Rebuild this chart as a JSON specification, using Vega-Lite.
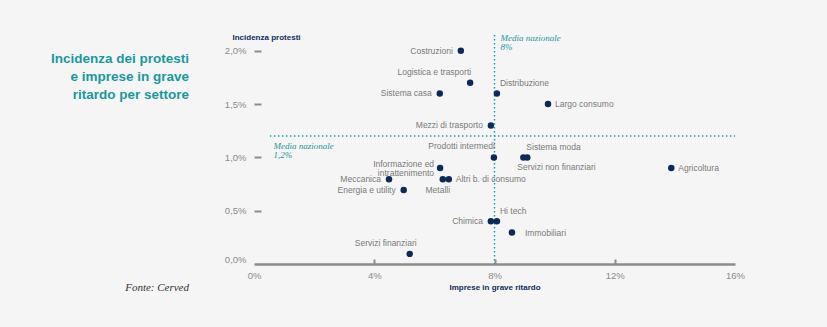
{
  "$schema": "https://vega.github.io/schema/vega-lite/v6.json",
  "width": 481,
  "height": 229,
  "autosize": {"type": "none"},
  "padding": {"left": 254, "top": 35, "right": 92, "bottom": 63},
  "background": "#f5f5f5",
  "config": {
    "view": {"stroke": null},
    "font": "Liberation Sans"
  },
  "title": {
    "text": ["Incidenza dei protesti", "e imprese in grave", "ritardo per settore"],
    "subtitle": "Fonte: Cerved",
    "anchor": "start",
    "frame": "group",
    "orient": "top",
    "align": "right",
    "offset": 0,
    "dx": -65,
    "dy": 260,
    "font": "Liberation Sans",
    "fontSize": 13.5,
    "fontWeight": "bold",
    "color": "#17999d",
    "lineHeight": 18,
    "subtitleFont": "Liberation Serif",
    "subtitleFontStyle": "italic",
    "subtitleFontSize": 11,
    "subtitleColor": "#333333",
    "subtitlePadding": 181
  },
  "data": {
    "values": [
      {"settore": "Costruzioni", "ritardo": 6.88, "protesti": 2.00},
      {"settore": "Logistica e trasporti", "ritardo": 7.19, "protesti": 1.70},
      {"settore": "Sistema casa", "ritardo": 6.18, "protesti": 1.60},
      {"settore": "Distribuzione", "ritardo": 8.08, "protesti": 1.60},
      {"settore": "Largo consumo", "ritardo": 9.78, "protesti": 1.50},
      {"settore": "Mezzi di trasporto", "ritardo": 7.88, "protesti": 1.30},
      {"settore": "Prodotti intermedi", "ritardo": 7.98, "protesti": 1.00},
      {"settore": "Sistema moda", "ritardo": 8.96, "protesti": 1.00},
      {"settore": "Servizi non finanziari", "ritardo": 9.09, "protesti": 1.00},
      {"settore": "Agricoltura", "ritardo": 13.88, "protesti": 0.90},
      {"settore": "Informazione ed\nintrattenimento", "ritardo": 6.19, "protesti": 0.90},
      {"settore": "Meccanica", "ritardo": 4.49, "protesti": 0.795},
      {"settore": "Metalli", "ritardo": 6.28, "protesti": 0.795},
      {"settore": "Altri b. di consumo", "ritardo": 6.48, "protesti": 0.795},
      {"settore": "Energia e utility", "ritardo": 4.98, "protesti": 0.695},
      {"settore": "Hi tech", "ritardo": 8.08, "protesti": 0.40},
      {"settore": "Chimica", "ritardo": 7.88, "protesti": 0.40},
      {"settore": "Immobiliari", "ritardo": 8.58, "protesti": 0.295},
      {"settore": "Servizi finanziari", "ritardo": 5.18, "protesti": 0.095}
    ]
  },
  "layer": [
    {
      "data": {"values": [{"media": 8}]},
      "mark": {"type": "rule", "color": "#1aa0a3", "strokeWidth": 1.5, "strokeDash": [1.5, 2.5]},
      "encoding": {"x": {"field": "media", "type": "quantitative"}}
    },
    {
      "data": {"values": [{"media": 1.2}]},
      "mark": {"type": "rule", "color": "#1aa0a3", "strokeWidth": 1.5, "strokeDash": [1.5, 2.5]},
      "encoding": {"y": {"field": "media", "type": "quantitative"}, "x": {"datum": 0.53}, "x2": {"datum": 16}}
    },
    {
      "mark": {"type": "circle", "size": 42, "color": "#0c2a58", "opacity": 1},
      "encoding": {
        "x": {
          "field": "ritardo", "type": "quantitative",
          "scale": {"domain": [0, 16], "nice": false, "zero": false},
          "axis": {
            "values": [0, 4, 8, 12, 16],
            "labelExpr": "datum.value + '%'",
            "grid": false,
            "domainColor": "#8c8c8c",
            "domainWidth": 2.5,
            "tickSize": -5,
            "tickWidth": 2,
            "tickColor": "#8c8c8c",
            "tickOpacity": {"condition": {"test": "datum.value == 0 || datum.value == 16", "value": 0}, "value": 1},
            "labelColor": "#8a8a8a",
            "labelFontSize": 9.5,
            "labelPadding": 11,
            "labelFlush": false,
            "title": "Imprese in grave ritardo",
            "titleColor": "#0f2d5c",
            "titleFontSize": 8,
            "titleFontWeight": "bold",
            "titlePadding": 4
          }
        },
        "y": {
          "field": "protesti", "type": "quantitative",
          "scale": {"domain": [0, 2.148], "nice": false, "zero": false},
          "axis": {
            "values": [0, 0.5, 1, 1.5, 2],
            "labelExpr": "replace(format(datum.value, '.1f'), '.', ',') + '%'",
            "grid": false,
            "domain": false,
            "tickSize": -7,
            "tickWidth": 2,
            "tickColor": "#8c8c8c",
            "tickOpacity": {"condition": {"test": "datum.value == 0", "value": 0}, "value": 1},
            "labelOffset": {"condition": {"test": "datum.value == 0", "value": -5}, "value": 0},
            "labelColor": "#8a8a8a",
            "labelFontSize": 9.5,
            "labelPadding": 15,
            "title": "Incidenza protesti",
            "titleAngle": 0,
            "titleAlign": "left",
            "titleBaseline": "middle",
            "titleX": -22,
            "titleY": 2,
            "titleColor": "#0f2d5c",
            "titleFontSize": 8,
            "titleFontWeight": "bold"
          }
        }
      }
    },
    {
      "transform": [{"filter": {"field": "settore", "oneOf": ["Costruzioni", "Sistema casa", "Mezzi di trasporto", "Meccanica", "Energia e utility", "Chimica"]}}],
      "mark": {"type": "text", "align": "right", "baseline": "middle", "dx": -8, "fontSize": 8.5, "color": "#7a7a7a"},
      "encoding": {"x": {"field": "ritardo", "type": "quantitative"}, "y": {"field": "protesti", "type": "quantitative"}, "text": {"field": "settore"}}
    },
    {
      "transform": [{"filter": {"field": "settore", "oneOf": ["Largo consumo", "Agricoltura", "Altri b. di consumo"]}}],
      "mark": {"type": "text", "align": "left", "baseline": "middle", "dx": 7, "fontSize": 8.5, "color": "#7a7a7a"},
      "encoding": {"x": {"field": "ritardo", "type": "quantitative"}, "y": {"field": "protesti", "type": "quantitative"}, "text": {"field": "settore"}}
    },
    {
      "transform": [{"filter": {"field": "settore", "oneOf": ["Immobiliari"]}}],
      "mark": {"type": "text", "align": "left", "baseline": "middle", "dx": 13, "fontSize": 8.5, "color": "#7a7a7a"},
      "encoding": {"x": {"field": "ritardo", "type": "quantitative"}, "y": {"field": "protesti", "type": "quantitative"}, "text": {"field": "settore"}}
    },
    {
      "transform": [{"filter": {"field": "settore", "oneOf": ["Logistica e trasporti", "Prodotti intermedi"]}}],
      "mark": {"type": "text", "align": "right", "baseline": "middle", "dx": 1, "dy": -11, "fontSize": 8.5, "color": "#7a7a7a"},
      "encoding": {"x": {"field": "ritardo", "type": "quantitative"}, "y": {"field": "protesti", "type": "quantitative"}, "text": {"field": "settore"}}
    },
    {
      "transform": [{"filter": {"field": "settore", "oneOf": ["Distribuzione", "Sistema moda", "Hi tech"]}}],
      "mark": {"type": "text", "align": "left", "baseline": "middle", "dx": 3, "dy": -10, "fontSize": 8.5, "color": "#7a7a7a"},
      "encoding": {"x": {"field": "ritardo", "type": "quantitative"}, "y": {"field": "protesti", "type": "quantitative"}, "text": {"field": "settore"}}
    },
    {
      "transform": [{"filter": {"field": "settore", "oneOf": ["Servizi non finanziari"]}}],
      "mark": {"type": "text", "align": "left", "baseline": "middle", "dx": -10, "dy": 10, "fontSize": 8.5, "color": "#7a7a7a"},
      "encoding": {"x": {"field": "ritardo", "type": "quantitative"}, "y": {"field": "protesti", "type": "quantitative"}, "text": {"field": "settore"}}
    },
    {
      "transform": [{"filter": {"field": "settore", "oneOf": ["Metalli"]}}],
      "mark": {"type": "text", "align": "center", "baseline": "middle", "dx": -5, "dy": 11, "fontSize": 8.5, "color": "#7a7a7a"},
      "encoding": {"x": {"field": "ritardo", "type": "quantitative"}, "y": {"field": "protesti", "type": "quantitative"}, "text": {"field": "settore"}}
    },
    {
      "transform": [{"filter": {"field": "settore", "oneOf": ["Servizi finanziari"]}}],
      "mark": {"type": "text", "align": "center", "baseline": "middle", "dx": -24, "dy": -11, "fontSize": 8.5, "color": "#7a7a7a"},
      "encoding": {"x": {"field": "ritardo", "type": "quantitative"}, "y": {"field": "protesti", "type": "quantitative"}, "text": {"field": "settore"}}
    },
    {
      "transform": [{"filter": {"field": "settore", "oneOf": ["Informazione ed\nintrattenimento"]}}],
      "mark": {"type": "text", "align": "right", "baseline": "middle", "lineBreak": "\n", "lineHeight": 9.5, "dx": -6, "dy": -4.5, "fontSize": 8.5, "color": "#7a7a7a"},
      "encoding": {"x": {"field": "ritardo", "type": "quantitative"}, "y": {"field": "protesti", "type": "quantitative"}, "text": {"field": "settore"}}
    },
    {
      "data": {"values": [{"nota": "Media nazionale\n8%", "x": 8, "y": 2.12}]},
      "mark": {"type": "text", "align": "left", "baseline": "middle", "lineBreak": "\n", "lineHeight": 9, "dx": 6, "font": "Liberation Serif", "fontStyle": "italic", "fontSize": 9, "color": "#1a989c"},
      "encoding": {"x": {"field": "x", "type": "quantitative"}, "y": {"field": "y", "type": "quantitative"}, "text": {"field": "nota"}}
    },
    {
      "data": {"values": [{"nota": "Media nazionale\n1,2%", "x": 0.53, "y": 1.2}]},
      "mark": {"type": "text", "align": "left", "baseline": "middle", "lineBreak": "\n", "lineHeight": 9, "dx": 3.5, "dy": 10, "font": "Liberation Serif", "fontStyle": "italic", "fontSize": 9, "color": "#1a989c"},
      "encoding": {"x": {"field": "x", "type": "quantitative"}, "y": {"field": "y", "type": "quantitative"}, "text": {"field": "nota"}}
    }
  ]
}
